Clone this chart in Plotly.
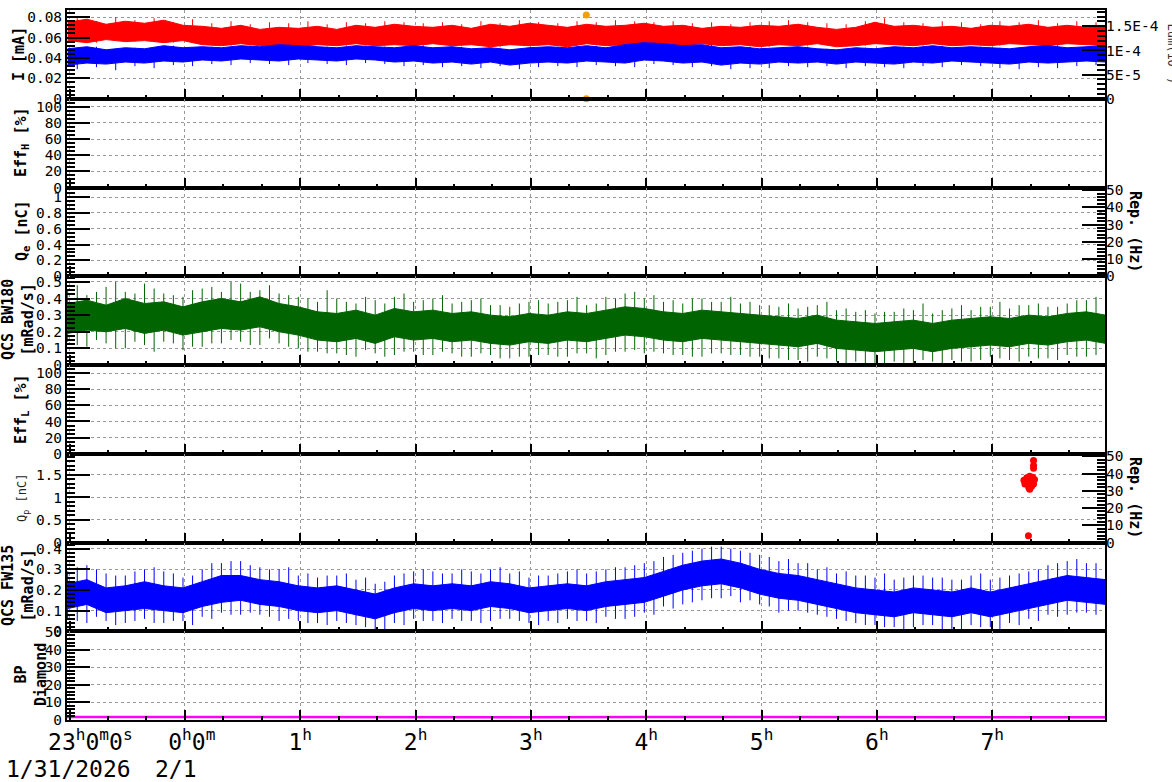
import plotly.graph_objects as go
import pandas as pd

# ---------------- data ----------------
T0 = '2026-01-31 22:58:40'
T1 = '2026-02-01 07:58:40'

sample_times = list(pd.date_range('2026-01-31 22:59', periods=55, freq='10min'))
spike_times = list(pd.date_range('2026-01-31 23:04', periods=55, freq='10min'))

tick_times = ['2026-01-31 23:00', '2026-02-01 00:00', '2026-02-01 01:00', '2026-02-01 02:00',
              '2026-02-01 03:00', '2026-02-01 04:00', '2026-02-01 05:00', '2026-02-01 06:00',
              '2026-02-01 07:00']
tick_labels = ['\u00a0\u00a0\u00a023<sup>h</sup>0<sup>m</sup>0<sup>s</sup>', '\u00a00<sup>h</sup>0<sup>m</sup>',
               '1<sup>h</sup>', '2<sup>h</sup>', '3<sup>h</sup>', '4<sup>h</sup>',
               '5<sup>h</sup>', '6<sup>h</sup>', '7<sup>h</sup>']

# Panel 1: beam current I [mA] (upper/lower envelopes + spike tips)
red_hi = [0.075, 0.078, 0.073, 0.076, 0.074, 0.077, 0.072,
          0.071, 0.069, 0.072, 0.068, 0.070, 0.069,
          0.071, 0.068, 0.072, 0.070, 0.073, 0.071,
          0.070, 0.072, 0.069, 0.073, 0.071, 0.074,
          0.072, 0.070, 0.073, 0.071, 0.072, 0.074,
          0.071, 0.072, 0.069, 0.071, 0.070, 0.072,
          0.071, 0.073, 0.070, 0.068, 0.070, 0.075,
          0.071, 0.072, 0.070, 0.071, 0.069, 0.072,
          0.071, 0.073, 0.070, 0.072, 0.070, 0.071]
red_lo = [0.057, 0.055, 0.058, 0.056, 0.057, 0.055, 0.057,
          0.053, 0.052, 0.054, 0.052, 0.053, 0.051,
          0.053, 0.052, 0.054, 0.052, 0.053, 0.052,
          0.054, 0.052, 0.053, 0.051, 0.053, 0.052,
          0.053, 0.051, 0.054, 0.052, 0.053, 0.055,
          0.053, 0.052, 0.054, 0.052, 0.053, 0.051,
          0.053, 0.052, 0.054, 0.051, 0.052, 0.054,
          0.053, 0.052, 0.054, 0.052, 0.053, 0.052,
          0.054, 0.053, 0.052, 0.054, 0.053, 0.052]
red_spike_hi = [0.079, 0.076, 0.080, 0.077, 0.079, 0.075, 0.078,
                0.074, 0.076, 0.073, 0.075, 0.074, 0.076,
                0.073, 0.075, 0.074, 0.076, 0.075, 0.074,
                0.075, 0.073, 0.076, 0.074, 0.077, 0.075,
                0.074, 0.076, 0.075, 0.077, 0.076, 0.075,
                0.076, 0.074, 0.075, 0.073, 0.075, 0.076,
                0.077, 0.075, 0.074, 0.073, 0.076, 0.079,
                0.075, 0.074, 0.076, 0.075, 0.073, 0.076,
                0.075, 0.077, 0.074, 0.076, 0.075, 0.074]
blue_hi = [0.049, 0.051, 0.048, 0.050, 0.049, 0.052, 0.050,
           0.051, 0.050, 0.052, 0.051, 0.053, 0.052,
           0.051, 0.050, 0.052, 0.051, 0.050, 0.052,
           0.050, 0.051, 0.049, 0.050, 0.048, 0.050,
           0.051, 0.050, 0.052, 0.050, 0.053, 0.055,
           0.054, 0.052, 0.053, 0.050, 0.051, 0.049,
           0.050, 0.051, 0.049, 0.048, 0.050, 0.049,
           0.051, 0.050, 0.052, 0.050, 0.051, 0.050,
           0.049, 0.051, 0.052, 0.050, 0.051, 0.052]
blue_lo = [0.033, 0.035, 0.034, 0.036, 0.035, 0.037, 0.036,
           0.038, 0.037, 0.039, 0.038, 0.037, 0.039,
           0.038, 0.037, 0.039, 0.038, 0.036, 0.037,
           0.035, 0.036, 0.034, 0.036, 0.033, 0.035,
           0.036, 0.035, 0.037, 0.036, 0.035, 0.038,
           0.037, 0.035, 0.036, 0.033, 0.035, 0.034,
           0.036, 0.035, 0.036, 0.034, 0.036, 0.035,
           0.034, 0.036, 0.035, 0.037, 0.036, 0.035,
           0.034, 0.036, 0.035, 0.036, 0.037, 0.036]
blue_spike_lo = [0.029, 0.031, 0.028, 0.032, 0.030, 0.033, 0.032,
                 0.034, 0.033, 0.035, 0.034, 0.033, 0.035,
                 0.034, 0.033, 0.035, 0.034, 0.032, 0.033,
                 0.031, 0.032, 0.030, 0.032, 0.029, 0.031,
                 0.032, 0.031, 0.033, 0.032, 0.031, 0.034,
                 0.033, 0.031, 0.032, 0.029, 0.030, 0.030,
                 0.032, 0.031, 0.032, 0.030, 0.032, 0.031,
                 0.030, 0.032, 0.031, 0.033, 0.032, 0.030,
                 0.029, 0.031, 0.030, 0.032, 0.033, 0.032]
orange_times = ['2026-02-01 03:28:50', '2026-02-01 03:28:50']
orange_vals = [0.082, 0.0]

# Panel 4: QCS BW180 [mRad/s]
bw_hi = [0.37, 0.39, 0.36, 0.40, 0.37, 0.38, 0.35,
         0.38, 0.40, 0.38, 0.41, 0.37, 0.35,
         0.32, 0.31, 0.33, 0.30, 0.34, 0.32,
         0.33, 0.31, 0.32, 0.30, 0.29, 0.31,
         0.30, 0.32, 0.31, 0.33, 0.35, 0.34,
         0.32, 0.31, 0.33, 0.32, 0.31, 0.30,
         0.29, 0.28, 0.30, 0.27, 0.26, 0.25,
         0.26, 0.27, 0.25, 0.27, 0.28, 0.29,
         0.28, 0.30, 0.29, 0.31, 0.32, 0.30]
bw_lo = [0.19, 0.21, 0.20, 0.22, 0.19, 0.21, 0.18,
         0.20, 0.22, 0.21, 0.23, 0.20, 0.18,
         0.15, 0.14, 0.16, 0.13, 0.17, 0.15,
         0.16, 0.14, 0.15, 0.13, 0.12, 0.14,
         0.13, 0.15, 0.14, 0.16, 0.18, 0.17,
         0.15, 0.14, 0.16, 0.15, 0.14, 0.13,
         0.12, 0.11, 0.13, 0.10, 0.09, 0.08,
         0.09, 0.10, 0.08, 0.10, 0.11, 0.12,
         0.11, 0.13, 0.12, 0.14, 0.15, 0.13]
bw_spike_hi = [0.48, 0.44, 0.50, 0.43, 0.46, 0.42, 0.45,
               0.47, 0.50, 0.44, 0.48, 0.42, 0.40,
               0.45, 0.38, 0.41, 0.37, 0.43, 0.39,
               0.42, 0.38, 0.40, 0.36, 0.37, 0.39,
               0.38, 0.41, 0.37, 0.40, 0.44, 0.42,
               0.39, 0.40, 0.38, 0.41, 0.38, 0.36,
               0.37, 0.35, 0.38, 0.34, 0.33, 0.32,
               0.34, 0.37, 0.33, 0.36, 0.35, 0.38,
               0.36, 0.37, 0.35, 0.39, 0.41, 0.37]
bw_spike_lo = [0.12, 0.15, 0.10, 0.14, 0.08, 0.13, 0.11,
               0.13, 0.15, 0.12, 0.16, 0.11, 0.08,
               0.07, 0.06, 0.09, 0.05, 0.08, 0.06,
               0.08, 0.05, 0.07, 0.04, 0.05, 0.06,
               0.05, 0.07, 0.04, 0.08, 0.09, 0.08,
               0.06, 0.05, 0.07, 0.06, 0.05, 0.04,
               0.03, 0.02, 0.04, 0.01, 0.01, 0.00,
               0.01, 0.03, 0.00, 0.02, 0.03, 0.04,
               0.02, 0.04, 0.03, 0.05, 0.06, 0.04]
bw_spike2_hi = [0.45, 0.42, 0.47, 0.44, 0.49, 0.43, 0.41,
                0.46, 0.44, 0.49, 0.45, 0.43, 0.41,
                0.38, 0.40, 0.37, 0.39, 0.41, 0.38,
                0.40, 0.37, 0.39, 0.36, 0.35, 0.38,
                0.37, 0.39, 0.36, 0.41, 0.43, 0.40,
                0.38, 0.37, 0.40, 0.38, 0.37, 0.36,
                0.35, 0.34, 0.36, 0.33, 0.32, 0.31,
                0.32, 0.33, 0.31, 0.34, 0.33, 0.35,
                0.34, 0.36, 0.35, 0.37, 0.39, 0.36]
bw_spike2_lo = [0.14, 0.11, 0.13, 0.10, 0.12, 0.14, 0.09,
                0.11, 0.13, 0.14, 0.12, 0.13, 0.10,
                0.08, 0.07, 0.05, 0.07, 0.06, 0.08,
                0.06, 0.07, 0.05, 0.06, 0.04, 0.05,
                0.06, 0.05, 0.07, 0.06, 0.08, 0.07,
                0.07, 0.06, 0.05, 0.07, 0.06, 0.05,
                0.04, 0.03, 0.05, 0.02, 0.02, 0.01,
                0.02, 0.01, 0.02, 0.03, 0.02, 0.05,
                0.03, 0.05, 0.04, 0.06, 0.05, 0.05]

# Panel 6: Q_p [nC]
qp_times = ['2026-02-01 07:21:30', '2026-02-01 07:21:30', '2026-02-01 07:21:30',
            '2026-02-01 07:16:30', '2026-02-01 07:18:00', '2026-02-01 07:19:30', '2026-02-01 07:21:00',
            '2026-02-01 07:22:00', '2026-02-01 07:17:00', '2026-02-01 07:18:30', '2026-02-01 07:20:00',
            '2026-02-01 07:21:30', '2026-02-01 07:19:00', '2026-02-01 07:20:30', '2026-02-01 07:19:30',
            '2026-02-01 07:18:50']
qp_vals = [1.82, 1.71, 1.65,
           1.38, 1.44, 1.47, 1.45,
           1.40, 1.30, 1.33, 1.36,
           1.30, 1.22, 1.25, 1.18,
           0.15]

# Panel 7: QCS FW135 [mRad/s]
fw_hi = [0.23, 0.25, 0.21, 0.22, 0.24, 0.22, 0.21,
         0.24, 0.27, 0.27, 0.25, 0.24, 0.22,
         0.21, 0.22, 0.20, 0.18, 0.21, 0.23,
         0.22, 0.23, 0.22, 0.24, 0.23, 0.21,
         0.22, 0.23, 0.22, 0.24, 0.25, 0.26,
         0.29, 0.32, 0.34, 0.35, 0.33, 0.30,
         0.28, 0.27, 0.25, 0.23, 0.21, 0.20,
         0.19, 0.21, 0.20, 0.19, 0.21, 0.19,
         0.21, 0.23, 0.25, 0.27, 0.26, 0.25]
fw_lo = [0.11, 0.13, 0.09, 0.10, 0.11, 0.10, 0.09,
         0.12, 0.14, 0.15, 0.13, 0.12, 0.10,
         0.09, 0.10, 0.08, 0.06, 0.09, 0.11,
         0.10, 0.11, 0.10, 0.12, 0.11, 0.09,
         0.10, 0.11, 0.10, 0.12, 0.13, 0.14,
         0.17, 0.20, 0.22, 0.23, 0.21, 0.18,
         0.16, 0.15, 0.13, 0.11, 0.09, 0.08,
         0.07, 0.09, 0.08, 0.07, 0.09, 0.07,
         0.09, 0.11, 0.13, 0.15, 0.14, 0.13]
fw_spike_hi = [0.31, 0.30, 0.27, 0.29, 0.31, 0.28, 0.27,
               0.33, 0.34, 0.32, 0.30, 0.31, 0.28,
               0.27, 0.28, 0.26, 0.24, 0.28, 0.30,
               0.28, 0.30, 0.28, 0.31, 0.29, 0.27,
               0.28, 0.30, 0.29, 0.31, 0.32, 0.34,
               0.37, 0.39, 0.41, 0.40, 0.38, 0.36,
               0.35, 0.33, 0.31, 0.29, 0.27, 0.28,
               0.26, 0.27, 0.26, 0.25, 0.28, 0.26,
               0.28, 0.30, 0.33, 0.35, 0.33, 0.32]
fw_spike_lo = [0.05, 0.07, 0.03, 0.05, 0.04, 0.05, 0.03,
               0.06, 0.08, 0.09, 0.07, 0.06, 0.04,
               0.03, 0.04, 0.02, 0.00, 0.03, 0.05,
               0.04, 0.05, 0.04, 0.06, 0.05, 0.03,
               0.04, 0.05, 0.04, 0.06, 0.07, 0.08,
               0.11, 0.14, 0.16, 0.17, 0.15, 0.12,
               0.10, 0.09, 0.07, 0.05, 0.03, 0.02,
               0.01, 0.03, 0.01, 0.00, 0.02, 0.01,
               0.03, 0.05, 0.07, 0.09, 0.08, 0.07]
fw_spike2_hi = [0.29, 0.32, 0.28, 0.27, 0.30, 0.29, 0.26,
                0.30, 0.33, 0.34, 0.31, 0.30, 0.27,
                0.26, 0.27, 0.25, 0.23, 0.27, 0.29,
                0.29, 0.28, 0.29, 0.30, 0.28, 0.26,
                0.27, 0.29, 0.28, 0.30, 0.31, 0.33,
                0.36, 0.38, 0.40, 0.41, 0.39, 0.37,
                0.34, 0.33, 0.30, 0.28, 0.27, 0.26,
                0.25, 0.27, 0.26, 0.25, 0.27, 0.25,
                0.27, 0.29, 0.32, 0.34, 0.33, 0.31]
fw_spike2_lo = [0.06, 0.04, 0.05, 0.04, 0.06, 0.04, 0.05,
                0.07, 0.09, 0.08, 0.08, 0.05, 0.05,
                0.04, 0.05, 0.03, 0.01, 0.04, 0.06,
                0.05, 0.06, 0.05, 0.05, 0.06, 0.04,
                0.05, 0.06, 0.05, 0.07, 0.06, 0.09,
                0.12, 0.13, 0.15, 0.16, 0.14, 0.13,
                0.09, 0.10, 0.08, 0.06, 0.04, 0.03,
                0.02, 0.02, 0.03, 0.01, 0.03, 0.02,
                0.04, 0.06, 0.08, 0.08, 0.09, 0.08]

# Panel 8: BP Diamond
bp_times = ['2026-01-31 22:58:40', '2026-01-31 23:59', '2026-02-01 00:59', '2026-02-01 01:59',
            '2026-02-01 02:59', '2026-02-01 03:59', '2026-02-01 04:59', '2026-02-01 05:59',
            '2026-02-01 06:59', '2026-02-01 07:58:40']
bp_vals = [1.7, 1.6, 1.7, 1.6, 1.6, 1.7, 1.6, 1.6, 1.7, 1.6]

# ---------------- figure ----------------
FONT = 'DejaVu Sans Mono'
L, R, TOP, BOT = 67, 1105, 10, 720
W, H = 1172, 782


def px(xp):
    return (xp - L) / (R - L)


def py(yp):
    return (BOT - yp) / (BOT - TOP)


def xn(k):
    return 'x' if k == 1 else f'x{k}'


def yn(k):
    return 'y' if k == 1 else f'y{k}'


fig = go.Figure()


def band(k, lo, hi, color):
    fig.add_trace(go.Scatter(x=sample_times, y=lo, mode='lines', line=dict(color=color, width=1),
                             xaxis=xn(k), yaxis=yn(k), showlegend=False, hoverinfo='skip'))
    fig.add_trace(go.Scatter(x=sample_times, y=hi, mode='lines', line=dict(color=color, width=1),
                             fill='tonexty', fillcolor=color,
                             xaxis=xn(k), yaxis=yn(k), showlegend=False, hoverinfo='skip'))


def spikes(k, times, lo, hi, color):
    xs, ys = [], []
    for t, a, b in zip(times, lo, hi):
        xs += [t, t, None]
        ys += [a, b, None]
    fig.add_trace(go.Scatter(x=xs, y=ys, mode='lines', line=dict(color=color, width=1),
                             xaxis=xn(k), yaxis=yn(k), showlegend=False, hoverinfo='skip'))


RED, BLUE, GREEN = '#ff0000', '#0000ff', '#006400'
spikes(1, spike_times, red_lo, red_spike_hi, RED)
band(1, red_lo, red_hi, RED)
spikes(1, spike_times, blue_spike_lo, blue_hi, BLUE)
band(1, blue_lo, blue_hi, BLUE)
fig.add_trace(go.Scatter(x=orange_times, y=orange_vals, mode='markers', cliponaxis=False,
                         marker=dict(color='#f0a000', size=7), xaxis='x', yaxis='y', showlegend=False))
spikes(4, spike_times, bw_spike_lo, bw_spike_hi, GREEN)
spikes(4, sample_times, bw_spike2_lo, bw_spike2_hi, GREEN)
band(4, bw_lo, bw_hi, GREEN)
fig.add_trace(go.Scatter(x=qp_times, y=qp_vals, mode='markers',
                         marker=dict(color=RED, size=7), xaxis='x6', yaxis='y6', showlegend=False))
spikes(7, spike_times, fw_spike_lo, fw_spike_hi, BLUE)
spikes(7, sample_times, fw_spike2_lo, fw_spike2_hi, BLUE)
band(7, fw_lo, fw_hi, BLUE)
fig.add_trace(go.Scatter(x=bp_times, y=bp_vals, mode='lines', line=dict(color='#ff00ff', width=2.5),
                         xaxis='x8', yaxis='y8', showlegend=False))
# empty traces to instantiate the right-hand axes and empty panels
for xa, ya in [('x', 'y9'), ('x3', 'y10'), ('x6', 'y11'), ('x2', 'y2'), ('x3', 'y3'), ('x5', 'y5')]:
    fig.add_trace(go.Scatter(x=[], y=[], xaxis=xa, yaxis=ya, showlegend=False))

GRID = dict(showgrid=True, gridcolor='#999999', griddash='dot', gridwidth=1)
TICKFONT = dict(family=FONT, size=14.5, color='black')

layout = dict(width=W, height=H, margin=dict(l=L, r=W - R, t=TOP, b=H - BOT, autoexpand=False),
              paper_bgcolor='white', plot_bgcolor='white', showlegend=False)

for k in range(1, 9):
    xa = dict(domain=[0, 1], anchor=yn(k), type='date', range=[T0, T1], automargin=False,
              showline=True, linecolor='black', linewidth=2, mirror=True,
              ticks='inside', ticklen=10, tickwidth=2, tickcolor='black',
              tickmode='array', tickvals=tick_times, ticktext=tick_labels,
              showticklabels=(k == 8), tickfont=dict(family=FONT, size=23, color='black'),
              minor=dict(ticks='inside', ticklen=4, tickwidth=1.5, tickcolor='black',
                         tick0='2026-01-31 23:00', dtick=20 * 60 * 1000),
              zeroline=False, fixedrange=True, **GRID)
    if k > 1:
        xa['matches'] = 'x'
    layout['xaxis' if k == 1 else f'xaxis{k}'] = xa

# (range, dtick, minor dtick)
yspec = {1: ([0, 0.087], 0.02, 0.004),
         2: ([0, 110], 20, 5),
         3: ([0, 1.12], 0.2, 0.05),
         4: ([0, 0.534], 0.1, 0.025),
         5: ([0, 110], 20, 5),
         6: ([0, 1.97], 0.5, 0.1),
         7: ([0, 0.43], 0.1, 0.02),
         8: ([0, 50.4], 10, 2)}
for k in range(1, 9):
    rng, dt, mdt = yspec[k]
    ya = dict(domain=[(8 - k) / 8, (9 - k) / 8], anchor=xn(k), range=rng, tick0=0, dtick=dt,
              automargin=False,
              showline=True, linecolor='black', linewidth=2, mirror=True,
              ticks='inside', ticklen=23, tickwidth=2, tickcolor='black',
              minor=dict(ticks='inside', ticklen=8, tickwidth=1.5, tickcolor='black', tick0=0, dtick=mdt),
              tickfont=TICKFONT, zeroline=False, fixedrange=True, **GRID)
    layout['yaxis' if k == 1 else f'yaxis{k}'] = ya

RIGHT_COMMON = dict(side='right', ticks='inside', ticklen=23, tickwidth=2, tickcolor='black',
                    automargin=False,
                    tickfont=TICKFONT, showgrid=False, showline=False, zeroline=False, fixedrange=True)
layout['yaxis9'] = dict(overlaying='y', anchor='x', range=[0, 1.838e-4], tickmode='array',
                        tickvals=[0, 5e-5, 1e-4, 1.5e-4], ticktext=['0', '5E-5', '1E-4', '1.5E-4'],
                        minor=dict(ticks='inside', ticklen=8, tickwidth=1.5, tickcolor='black',
                                   tick0=0, dtick=1e-5),
                        **RIGHT_COMMON)
for name, ov, xa in [('yaxis10', 'y3', 'x3'), ('yaxis11', 'y6', 'x6')]:
    layout[name] = dict(overlaying=ov, anchor=xa, range=[0, 51.5], tick0=0, dtick=10,
                        minor=dict(ticks='inside', ticklen=8, tickwidth=1.5, tickcolor='black',
                                   tick0=0, dtick=2),
                        **RIGHT_COMMON)

BOLD = dict(family=FONT, size=15, color='black')
ann = []


def title(text, xp, yp, angle=-90, font=BOLD, **kw):
    ann.append(dict(text=text, x=px(xp), y=py(yp), xref='paper', yref='paper', showarrow=False,
                    textangle=angle, font=font, xanchor='center', yanchor='middle', **kw))


title('<b>I [mA]</b>', 19, 54)
title('<b>Eff<sub>H</sub> [%]</b>', 22, 142)
title('<b>Q<sub>e</sub> [nC]</b>', 22, 231)
title('<b>QCS BW180<br>[mRad/s]</b>', 18, 320)
title('<b>Eff<sub>L</sub> [%]</b>', 22, 409)
title('Q<sub>p</sub> [nC]', 23, 498, font=dict(family=FONT, size=12, color='#222222'))
title('<b>QCS FW135<br>[mRad/s]</b>', 18, 586)
title('<b>BP<br>Diamond</b>', 31, 675)
title('<b>Rep. (Hz)</b>', 1135, 231, angle=90)
title('<b>Rep. (Hz)</b>', 1135, 497, angle=90)
ann.append(dict(text='Lum(10<sup>30</sup>)', x=px(1173), y=py(21), xref='paper', yref='paper',
                showarrow=False, textangle=90, xanchor='center', yanchor='top',
                font=dict(family=FONT, size=12, color='#333333')))
for txt, xp in [('1/31/2026', 4), ('2/1', 153)]:
    ann.append(dict(text=txt, x=px(xp), y=py(769), xref='paper', yref='paper', showarrow=False,
                    xanchor='left', yanchor='middle', font=dict(family=FONT, size=23, color='black')))
layout['annotations'] = ann

fig.update_layout(**layout)
fig.write_html('out.html', config={'displayModeBar': False},
               post_script="document.body.style.margin='0';document.body.style.padding='0';"
                           "document.body.style.overflow='hidden';")
